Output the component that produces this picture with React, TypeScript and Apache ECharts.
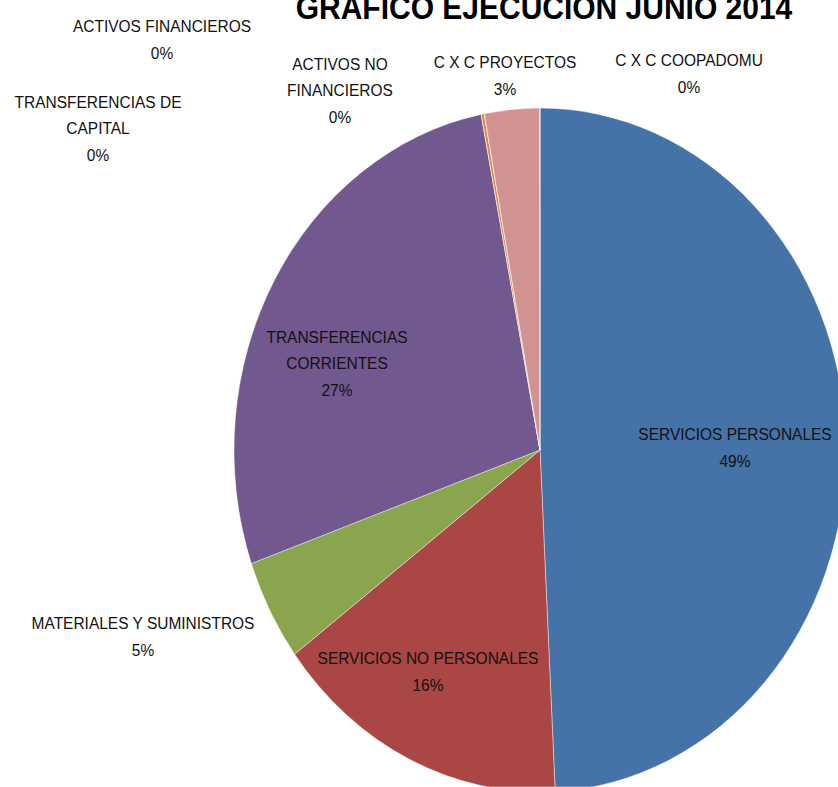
import React, { useEffect, useRef } from "react";
import * as echarts from "echarts";

const TITLE = "GRAFICO EJECUCION JUNIO 2014";

const categories = [
  "SERVICIOS PERSONALES",
  "SERVICIOS NO PERSONALES",
  "MATERIALES Y SUMINISTROS",
  "TRANSFERENCIAS CORRIENTES",
  "TRANSFERENCIAS DE CAPITAL",
  "ACTIVOS FINANCIEROS",
  "ACTIVOS NO FINANCIEROS",
  "C X C PROYECTOS",
  "C X C COOPADOMU",
];

// label text as wrapped in the reference
const labelLines = [
  "SERVICIOS PERSONALES",
  "SERVICIOS NO PERSONALES",
  "MATERIALES Y SUMINISTROS",
  "TRANSFERENCIAS\nCORRIENTES",
  "TRANSFERENCIAS DE\nCAPITAL",
  "ACTIVOS FINANCIEROS",
  "ACTIVOS NO\nFINANCIEROS",
  "C X C PROYECTOS",
  "C X C COOPADOMU",
];

// share of execution, percent
const values = [49.2, 15.6, 4.8, 27.3, 0.01, 0.15, 0.01, 2.9, 0.01];

const colors = [
  "#4572A7",
  "#AA4643",
  "#89A54E",
  "#71588F",
  "#4198AF",
  "#DB843D",
  "#93A9CF",
  "#D19392",
  "#B9CD96",
];

// vertical stretch of the original picture
const SY = 1.1176;
const W = 838;
const H = 787 / SY;

// label block centres, in screen pixels
const labelPos = [
  [735, 447],
  [428, 671],
  [143, 636],
  [337, 363],
  [98, 128],
  [162, 39],
  [340, 90],
  [505, 75],
  [689, 73],
];

export default function App() {
  const ref = useRef<HTMLDivElement>(null);
  useEffect(() => {
    if (!ref.current) return;
    const chart = echarts.init(ref.current, null, { renderer: "svg" });
    const font = "'Liberation Sans', Arial, sans-serif";
    chart.setOption({
      animation: false,
      backgroundColor: "#ffffff",
      title: {
        text: TITLE,
        left: 539,
        top: -13,
        textAlign: "center",
        textStyle: {
          fontFamily: font,
          fontWeight: "bold",
          fontSize: 30,
          color: "#000000",
        },
      },
      series: [
        {
          type: "pie",
          center: [540, 450 / SY],
          radius: 306,
          startAngle: 90,
          clockwise: true,
          avoidLabelOverlap: false,
          percentPrecision: 0,
          itemStyle: { borderColor: "rgba(255,255,255,0.5)", borderWidth: 0.8 },
          emphasis: { disabled: true },
          label: {
            show: true,
            position: "inside",
            fontFamily: font,
            fontSize: 15.5,
            lineHeight: 23.7,
            color: "#111111",
            align: "center",
            formatter: (p: any) => `${labelLines[p.dataIndex]}\n${p.percent}%`,
          },
          labelLine: { show: false },
          labelLayout: (p: any) => {
            const pos = labelPos[p.dataIndex];
            return {
              x: pos[0],
              y: pos[1] / SY,
              align: "center",
              verticalAlign: "middle",
            };
          },
          data: categories.map((name, i) => ({
            name,
            value: values[i],
            itemStyle: { color: colors[i] },
          })),
        },
      ],
    });
    return () => chart.dispose();
  }, []);
  return (
    <div
      style={{
        position: "fixed",
        left: 0,
        top: 0,
        width: W,
        height: 787,
        overflow: "hidden",
        background: "#fff",
      }}
    >
      <div
        ref={ref}
        style={{
          width: W,
          height: H,
          transform: `scaleY(${SY})`,
          transformOrigin: "0 0",
        }}
      />
    </div>
  );
}
